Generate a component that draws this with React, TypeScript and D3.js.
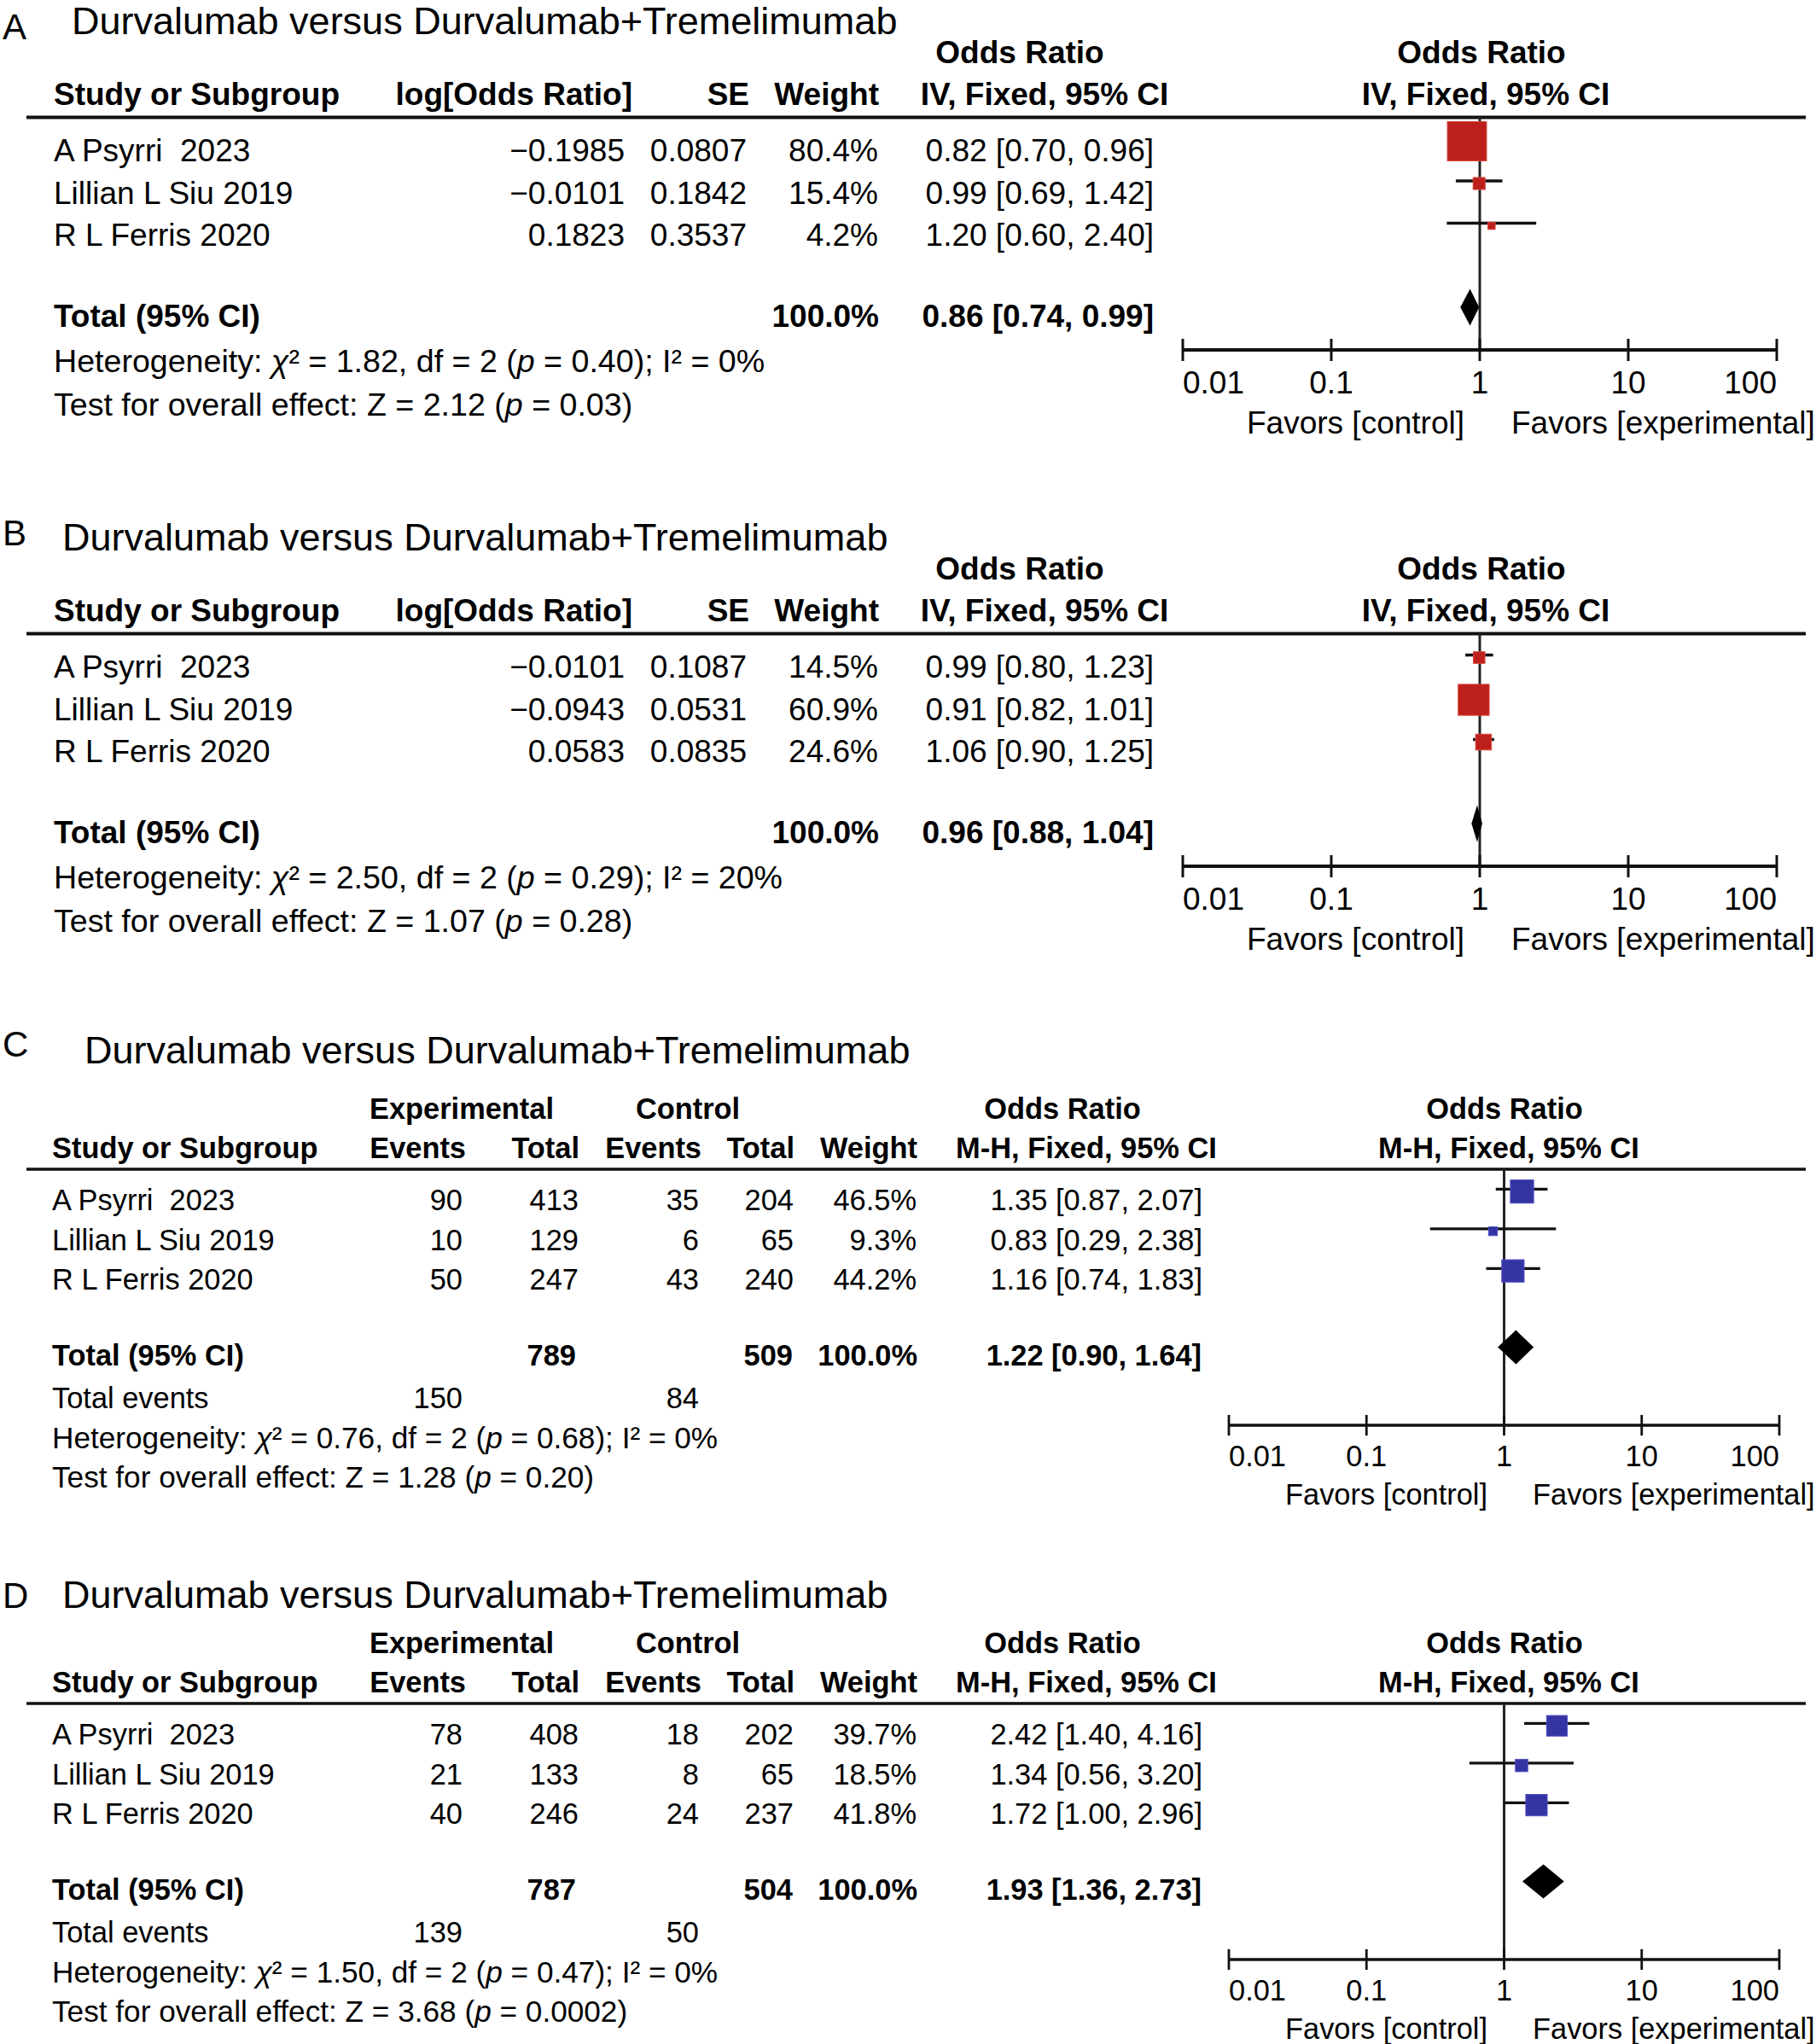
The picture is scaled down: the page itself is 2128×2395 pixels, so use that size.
import * as d3 from "d3";

const TITLE = "Durvalumab versus Durvalumab+Tremelimumab";
const STUDIES = ["A Psyrri  2023", "Lillian L Siu 2019", "R L Ferris 2020"];
const TICK_VALUES = [0.01, 0.1, 1, 10, 100];
const TICK_LABELS = ["0.01", "0.1", "1", "10", "100"];

// Panel A (generic inverse variance)
const A_LOG_OR = [-0.1985, -0.0101, 0.1823];
const A_SE = [0.0807, 0.1842, 0.3537];
const A_WEIGHT = [80.4, 15.4, 4.2];
const A_OR = [0.82, 0.99, 1.2];
const A_LO = [0.7, 0.69, 0.6];
const A_HI = [0.96, 1.42, 2.4];
const A_TOTAL = [0.86, 0.74, 0.99];
const A_HET = ["1.82", "2", "0.40", "0%"];
const A_TEST = ["2.12", "0.03"];

// Panel B
const B_LOG_OR = [-0.0101, -0.0943, 0.0583];
const B_SE = [0.1087, 0.0531, 0.0835];
const B_WEIGHT = [14.5, 60.9, 24.6];
const B_OR = [0.99, 0.91, 1.06];
const B_LO = [0.8, 0.82, 0.9];
const B_HI = [1.23, 1.01, 1.25];
const B_TOTAL = [0.96, 0.88, 1.04];
const B_HET = ["2.50", "2", "0.29", "20%"];
const B_TEST = ["1.07", "0.28"];

// Panel C (Mantel-Haenszel)
const C_EXP_EVENTS = [90, 10, 50];
const C_EXP_TOTAL = [413, 129, 247];
const C_CTRL_EVENTS = [35, 6, 43];
const C_CTRL_TOTAL = [204, 65, 240];
const C_WEIGHT = [46.5, 9.3, 44.2];
const C_OR = [1.35, 0.83, 1.16];
const C_LO = [0.87, 0.29, 0.74];
const C_HI = [2.07, 2.38, 1.83];
const C_TOTAL = [1.22, 0.9, 1.64];
const C_SUMS = [789, 509, 150, 84];
const C_HET = ["0.76", "2", "0.68", "0%"];
const C_TEST = ["1.28", "0.20"];

// Panel D
const D_EXP_EVENTS = [78, 21, 40];
const D_EXP_TOTAL = [408, 133, 246];
const D_CTRL_EVENTS = [18, 8, 24];
const D_CTRL_TOTAL = [202, 65, 237];
const D_WEIGHT = [39.7, 18.5, 41.8];
const D_OR = [2.42, 1.34, 1.72];
const D_LO = [1.4, 0.56, 1.0];
const D_HI = [4.16, 3.2, 2.96];
const D_TOTAL = [1.93, 1.36, 2.73];
const D_SUMS = [787, 504, 139, 50];
const D_HET = ["1.50", "2", "0.47", "0%"];
const D_TEST = ["3.68", "0.0002"];

const FONT = "'Liberation Sans', Arial, Helvetica, sans-serif";
const f2 = d3.format(".2f");
const f4 = d3.format(".4f");
const f1 = d3.format(".1f");
const ciText = (o: number, l: number, h: number) => `${f2(o)} [${f2(l)}, ${f2(h)}]`;

const T = ({ x, y, fs, bold, anchor, children }: any) => (
  <text
    x={x}
    y={y}
    fontSize={fs}
    fontWeight={bold ? "bold" : "normal"}
    textAnchor={anchor || "start"}
    style={{ whiteSpace: "pre" }}
    fill="#000"
  >
    {children}
  </text>
);

const Footer = ({ x, fs, hetY, testY, het, test }: any) => (
  <g>
    <text x={x} y={hetY} fontSize={fs} style={{ whiteSpace: "pre" }}>
      <tspan>{"Heterogeneity: "}</tspan>
      <tspan fontStyle="italic">{"χ"}</tspan>
      <tspan>{`² = ${het[0]}, df = ${het[1]} (`}</tspan>
      <tspan fontStyle="italic">p</tspan>
      <tspan>{` = ${het[2]}); I² = ${het[3]}`}</tspan>
    </text>
    <text x={x} y={testY} fontSize={fs} style={{ whiteSpace: "pre" }}>
      <tspan>{`Test for overall effect: Z = ${test[0]} (`}</tspan>
      <tspan fontStyle="italic">p</tspan>
      <tspan>{` = ${test[1]})`}</tspan>
    </text>
  </g>
);

const Forest = ({ L, dy, or, lo, hi, w, total, fill, stroke }: any) => {
  const x = d3.scaleLog().domain([0.01, 100]).range([L.ax0, L.ax1]);
  const k = L.k;
  const side = (v: number) => k * (6.5 + 0.49 * v);
  const rows = or.map((_: number, i: number) => dy + L.row0 + i * L.step - 26.5 * k);
  const tc = dy + L.total - 23 * k;
  const dh = 21.5 * k;
  const ay = dy + L.axis;
  return (
    <g>
      <line x1={x(1)} x2={x(1)} y1={dy + L.line} y2={ay} stroke="#222" strokeWidth={3} />
      {rows.map((cy: number, i: number) => {
        const s = side(w[i]);
        return (
          <g key={i}>
            <line x1={x(lo[i])} x2={x(hi[i])} y1={cy} y2={cy} stroke="#111" strokeWidth={3.5 * k} />
            <rect
              x={x(or[i]) - s / 2}
              y={cy + 3 * k - s / 2}
              width={s}
              height={s}
              fill={fill}
              stroke={stroke}
              strokeWidth={1}
            />
          </g>
        );
      })}
      <path
        d={`M${x(total[1])},${tc} L${x(total[0])},${tc - dh} L${x(total[2])},${tc} L${x(total[0])},${tc + dh} Z`}
        fill="#000"
      />
      <line x1={L.ax0} x2={L.ax1} y1={ay} y2={ay} stroke="#111" strokeWidth={4 * k} />
      {TICK_VALUES.map((t, i) => (
        <g key={t}>
          <line x1={x(t)} x2={x(t)} y1={ay - 13 * k} y2={ay + 13 * k} stroke="#111" strokeWidth={3 * k} />
          <T
            x={x(t)}
            y={dy + L.tickBase}
            fs={L.fs}
            anchor={i === 0 ? "start" : i === TICK_VALUES.length - 1 ? "end" : "middle"}
          >
            {TICK_LABELS[i]}
          </T>
        </g>
      ))}
      <T x={L.ctrlEnd} y={dy + L.favors} fs={L.fs} anchor="end">Favors [control]</T>
      <T x={L.expStart} y={dy + L.favors} fs={L.fs}>Favors [experimental]</T>
    </g>
  );
};

// layout of the inverse-variance panels (A, B)
const IV = {
  k: 1, fs: 37, footFs: 37.6, title: 40, hdr1: 74, hdr2: 123, line: 137.5, row0: 189, step: 49.5,
  total: 383, het: 436, test: 487, axis: 410, tickBase: 461, favors: 508,
  ax0: 1386, ax1: 2082, ctrlEnd: 1716, expStart: 1771,
  study: 63, logOr: 732, logOrHdr: 741, se: 875, seHdr: 878, weight: 1029, weightHdr: 1030,
  or: 1352, orHdr: 1224, orHdr1: 1195, plotHdr: 1741, plotHdr1: 1736,
};

// layout of the Mantel-Haenszel panels (C, D)
const MH = {
  k: 0.93, fs: 34.4, footFs: 35.2, title: 1246, hdr1: 1311, hdr2: 1357, line: 1370, row0: 1418, step: 46.5,
  total: 1600, events: 1650, het: 1697, test: 1743, axis: 1670, tickBase: 1718, favors: 1763,
  ax0: 1440, ax1: 2085, ctrlEnd: 1743, expStart: 1796,
  study: 61, expHdr1: 541, ctrlHdr1: 806, expEv: 542, expEvHdr: 546, expTot: 678, expTotHdr: 679,
  ctrlEv: 819, ctrlEvHdr: 822, ctrlTot: 930, ctrlTotHdr: 931, weight: 1074, weightHdr: 1075,
  or: 1409, orHdr: 1273, orHdr1: 1245, plotHdr: 1768, plotHdr1: 1763,
};

const IvPanel = ({ dy, label, labelDy, titleX, logOr, se, w, or, lo, hi, total, het, test }: any) => {
  const L = IV;
  const fs = L.fs;
  return (
    <g>
      <T x={3} y={dy + L.title + labelDy} fs={42}>{label}</T>
      <T x={titleX} y={dy + L.title} fs={45}>{TITLE}</T>
      <T x={L.orHdr1} y={dy + L.hdr1} fs={fs} bold anchor="middle">Odds Ratio</T>
      <T x={L.plotHdr1} y={dy + L.hdr1} fs={fs} bold anchor="middle">Odds Ratio</T>
      <T x={L.study} y={dy + L.hdr2} fs={fs} bold>Study or Subgroup</T>
      <T x={L.logOrHdr} y={dy + L.hdr2} fs={fs} bold anchor="end">log[Odds Ratio]</T>
      <T x={L.seHdr} y={dy + L.hdr2} fs={fs} bold anchor="end">SE</T>
      <T x={L.weightHdr} y={dy + L.hdr2} fs={fs} bold anchor="end">Weight</T>
      <T x={L.orHdr} y={dy + L.hdr2} fs={fs} bold anchor="middle">IV, Fixed, 95% CI</T>
      <T x={L.plotHdr} y={dy + L.hdr2} fs={fs} bold anchor="middle">IV, Fixed, 95% CI</T>
      <line x1={31} x2={2116} y1={dy + L.line} y2={dy + L.line} stroke="#111" strokeWidth={4} />
      {STUDIES.map((s, i) => {
        const y = dy + L.row0 + i * L.step;
        return (
          <g key={s}>
            <T x={L.study} y={y} fs={fs}>{s}</T>
            <T x={L.logOr} y={y} fs={fs} anchor="end">{f4(logOr[i])}</T>
            <T x={L.se} y={y} fs={fs} anchor="end">{f4(se[i])}</T>
            <T x={L.weight} y={y} fs={fs} anchor="end">{f1(w[i]) + "%"}</T>
            <T x={L.or} y={y} fs={fs} anchor="end">{ciText(or[i], lo[i], hi[i])}</T>
          </g>
        );
      })}
      <T x={L.study} y={dy + L.total} fs={fs} bold>Total (95% CI)</T>
      <T x={L.weightHdr} y={dy + L.total} fs={fs} bold anchor="end">{f1(d3.sum(w)) + "%"}</T>
      <T x={L.or} y={dy + L.total} fs={fs} bold anchor="end">{ciText(total[0], total[1], total[2])}</T>
      <Footer x={L.study} fs={L.footFs} hetY={dy + L.het} testY={dy + L.test} het={het} test={test} />
      <Forest L={L} dy={dy} or={or} lo={lo} hi={hi} w={w} total={total} fill="#BD1F1A" stroke="#D8453F" />
    </g>
  );
};

const MhPanel = ({ dy, titleDy, label, labelDy, titleX, ee, et, ce, ct, w, or, lo, hi, total, sums, het, test }: any) => {
  const L = MH;
  const fs = L.fs;
  const ty = dy + L.title + titleDy;
  return (
    <g>
      <T x={3} y={ty + labelDy} fs={42}>{label}</T>
      <T x={titleX} y={ty} fs={45}>{TITLE}</T>
      <T x={L.expHdr1} y={dy + L.hdr1} fs={fs} bold anchor="middle">Experimental</T>
      <T x={L.ctrlHdr1} y={dy + L.hdr1} fs={fs} bold anchor="middle">Control</T>
      <T x={L.orHdr1} y={dy + L.hdr1} fs={fs} bold anchor="middle">Odds Ratio</T>
      <T x={L.plotHdr1} y={dy + L.hdr1} fs={fs} bold anchor="middle">Odds Ratio</T>
      <T x={L.study} y={dy + L.hdr2} fs={fs} bold>Study or Subgroup</T>
      <T x={L.expEvHdr} y={dy + L.hdr2} fs={fs} bold anchor="end">Events</T>
      <T x={L.expTotHdr} y={dy + L.hdr2} fs={fs} bold anchor="end">Total</T>
      <T x={L.ctrlEvHdr} y={dy + L.hdr2} fs={fs} bold anchor="end">Events</T>
      <T x={L.ctrlTotHdr} y={dy + L.hdr2} fs={fs} bold anchor="end">Total</T>
      <T x={L.weightHdr} y={dy + L.hdr2} fs={fs} bold anchor="end">Weight</T>
      <T x={L.orHdr} y={dy + L.hdr2} fs={fs} bold anchor="middle">M-H, Fixed, 95% CI</T>
      <T x={L.plotHdr} y={dy + L.hdr2} fs={fs} bold anchor="middle">M-H, Fixed, 95% CI</T>
      <line x1={31} x2={2116} y1={dy + L.line} y2={dy + L.line} stroke="#111" strokeWidth={4 * L.k} />
      {STUDIES.map((s, i) => {
        const y = dy + L.row0 + i * L.step;
        return (
          <g key={s}>
            <T x={L.study} y={y} fs={fs}>{s}</T>
            <T x={L.expEv} y={y} fs={fs} anchor="end">{ee[i]}</T>
            <T x={L.expTot} y={y} fs={fs} anchor="end">{et[i]}</T>
            <T x={L.ctrlEv} y={y} fs={fs} anchor="end">{ce[i]}</T>
            <T x={L.ctrlTot} y={y} fs={fs} anchor="end">{ct[i]}</T>
            <T x={L.weight} y={y} fs={fs} anchor="end">{f1(w[i]) + "%"}</T>
            <T x={L.or} y={y} fs={fs} anchor="end">{ciText(or[i], lo[i], hi[i])}</T>
          </g>
        );
      })}
      <T x={L.study} y={dy + L.total} fs={fs} bold>Total (95% CI)</T>
      <T x={L.expTot - 3} y={dy + L.total} fs={fs} bold anchor="end">{sums[0]}</T>
      <T x={L.ctrlTot - 1} y={dy + L.total} fs={fs} bold anchor="end">{sums[1]}</T>
      <T x={L.weightHdr} y={dy + L.total} fs={fs} bold anchor="end">{f1(d3.sum(w)) + "%"}</T>
      <T x={L.or - 1} y={dy + L.total} fs={fs} bold anchor="end">{ciText(total[0], total[1], total[2])}</T>
      <T x={L.study} y={dy + L.events} fs={fs}>Total events</T>
      <T x={L.expEv} y={dy + L.events} fs={fs} anchor="end">{sums[2]}</T>
      <T x={L.ctrlEv} y={dy + L.events} fs={fs} anchor="end">{sums[3]}</T>
      <Footer x={L.study} fs={L.footFs} hetY={dy + L.het} testY={dy + L.test} het={het} test={test} />
      <Forest L={L} dy={dy} or={or} lo={lo} hi={hi} w={w} total={total} fill="#3434A2" stroke="#4F4FC4" />
    </g>
  );
};

export default function App() {
  return (
    <svg
      width={2128}
      height={2395}
      style={{ position: "absolute", left: 0, top: 0, background: "#fff" }}
      fontFamily={FONT}
    >
      <rect width={2128} height={2395} fill="#fff" />
      <IvPanel dy={0} label="A" labelDy={6} titleX={84} logOr={A_LOG_OR} se={A_SE} w={A_WEIGHT}
        or={A_OR} lo={A_LO} hi={A_HI} total={A_TOTAL} het={A_HET} test={A_TEST} />
      <IvPanel dy={605} label="B" labelDy={-6} titleX={73} logOr={B_LOG_OR} se={B_SE} w={B_WEIGHT}
        or={B_OR} lo={B_LO} hi={B_HI} total={B_TOTAL} het={B_HET} test={B_TEST} />
      <MhPanel dy={0} titleDy={0} label="C" labelDy={-8} titleX={99} ee={C_EXP_EVENTS} et={C_EXP_TOTAL}
        ce={C_CTRL_EVENTS} ct={C_CTRL_TOTAL} w={C_WEIGHT} or={C_OR} lo={C_LO} hi={C_HI}
        total={C_TOTAL} sums={C_SUMS} het={C_HET} test={C_TEST} />
      <MhPanel dy={626} titleDy={12} label="D" labelDy={0} titleX={73} ee={D_EXP_EVENTS} et={D_EXP_TOTAL}
        ce={D_CTRL_EVENTS} ct={D_CTRL_TOTAL} w={D_WEIGHT} or={D_OR} lo={D_LO} hi={D_HI}
        total={D_TOTAL} sums={D_SUMS} het={D_HET} test={D_TEST} />
    </svg>
  );
}
